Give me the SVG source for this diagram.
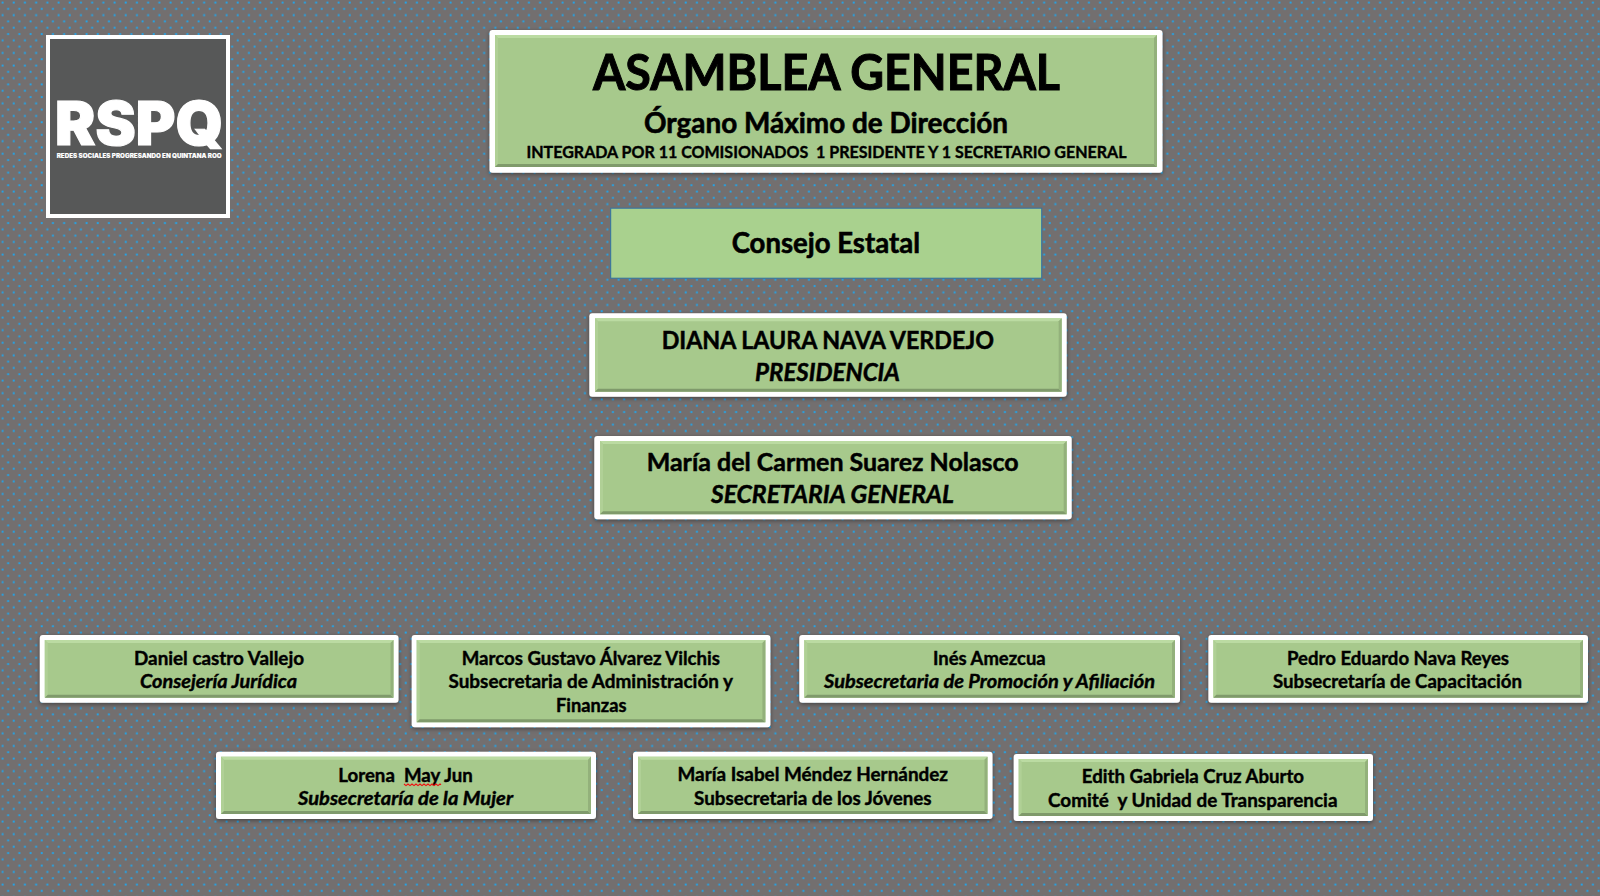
<svg xmlns="http://www.w3.org/2000/svg" width="1600" height="896" viewBox="0 0 1600 896">
<style>
text{font-family:"Lato","Carlito","Open Sans",sans-serif;font-weight:700;fill:#000;stroke:#000;stroke-width:.4;white-space:pre}
.i{font-style:italic}
.frame{fill:#fff;filter:url(#sh)}
.face{fill:#a7c98c}
.bt{fill:#bbdba2}
.bl{fill:#b0d096}
.bb{fill:#7f9a6b}
.br{fill:#93b17b}
.s1{font-size:18px}
.s2{font-size:25px;stroke-width:.5}
.logo{font-family:"Inter","Open Sans",sans-serif;font-weight:900;fill:#fff;stroke:#fff}
</style>
<defs>
<pattern id="dots" width="11.2" height="12.6" patternUnits="userSpaceOnUse">
<rect width="11.2" height="12.6" fill="#736f6f"/>
<rect x="1.6" y="1.6" width="1.9" height="1.9" fill="#1fa6ee"/>
<rect x="7.2" y="7.9" width="1.9" height="1.9" fill="#1fa6ee"/>
</pattern>
<filter id="sh" x="-5%" y="-15%" width="110%" height="130%"><feDropShadow dx="0" dy="1.5" stdDeviation="2" flood-color="#000" flood-opacity=".4"/></filter>
</defs>
<rect id="background" width="1600" height="896" fill="url(#dots)"/>
<g id="connectors"/>
<g id="logo">
<rect x="48" y="37" width="180" height="179" fill="#575858" stroke="#fff" stroke-width="4"/>
<text class="logo" x="55" y="145" font-size="60" textLength="168" lengthAdjust="spacingAndGlyphs" style="stroke-width:1.2">RSPQ</text>
<text class="logo" x="56.7" y="158" font-size="6" textLength="165" lengthAdjust="spacingAndGlyphs" style="stroke-width:.1">REDES SOCIALES PROGRESANDO EN QUINTANA ROO</text>
</g>
<g id="asamblea">
<rect class="frame" x="489.5" y="30" width="673" height="142.7" rx="3"/>
<rect class="face" x="495" y="35" width="662" height="132"/>
<polygon class="bt" points="495,35 1157,35 1154,38 498,38"/>
<polygon class="bl" points="495,35 498,38 498,164 495,167"/>
<polygon class="bb" points="495,167 1157,167 1154,164 498,164"/>
<polygon class="br" points="1157,35 1157,167 1154,164 1154,38"/>
<text x="593" y="90" font-size="50" textLength="467" lengthAdjust="spacingAndGlyphs" style="stroke-width:1">ASAMBLEA GENERAL</text>
<text x="644" y="133" font-size="28" textLength="364" lengthAdjust="spacingAndGlyphs" style="stroke-width:.6">Órgano Máximo de Dirección</text>
<text x="526.5" y="158" font-size="17" textLength="600" lengthAdjust="spacingAndGlyphs">INTEGRADA POR 11 COMISIONADOS  1 PRESIDENTE Y 1 SECRETARIO GENERAL</text>
</g>
<g id="consejo">
<rect x="610.7" y="208.2" width="431" height="70" fill="#a9d18e" stroke="#2f73a5" stroke-width="1"/>
<text x="731.7" y="252.9" font-size="28" textLength="188.3" lengthAdjust="spacingAndGlyphs" style="stroke-width:.6">Consejo Estatal</text>
</g>
<g id="presidencia">
<rect class="frame" x="589.3" y="313.3" width="477.4" height="83.4" rx="3"/>
<rect class="face" x="595" y="318.3" width="466.7" height="73.4"/>
<polygon class="bt" points="595,318.3 1061.7,318.3 1058.7,321.3 598,321.3"/>
<polygon class="bl" points="595,318.3 598,321.3 598,388.7 595,391.7"/>
<polygon class="bb" points="595,391.7 1061.7,391.7 1058.7,388.7 598,388.7"/>
<polygon class="br" points="1061.7,318.3 1061.7,391.7 1058.7,388.7 1058.7,321.3"/>
<text class="s2" x="661.7" y="348.7" textLength="332.3" lengthAdjust="spacingAndGlyphs">DIANA LAURA NAVA VERDEJO</text>
<text class="s2 i" x="755" y="381" textLength="145" lengthAdjust="spacingAndGlyphs">PRESIDENCIA</text>
</g>
<g id="secretaria">
<rect class="frame" x="594.3" y="436" width="477.4" height="83.3" rx="3"/>
<rect class="face" x="600" y="441" width="466.7" height="73.3"/>
<polygon class="bt" points="600,441 1066.7,441 1063.7,444 603,444"/>
<polygon class="bl" points="600,441 603,444 603,511.3 600,514.3"/>
<polygon class="bb" points="600,514.3 1066.7,514.3 1063.7,511.3 603,511.3"/>
<polygon class="br" points="1066.7,441 1066.7,514.3 1063.7,511.3 1063.7,444"/>
<text class="s2" x="646.7" y="471" textLength="372" lengthAdjust="spacingAndGlyphs">María del Carmen Suarez Nolasco</text>
<text class="s2 i" x="711" y="503" textLength="243" lengthAdjust="spacingAndGlyphs">SECRETARIA GENERAL</text>
</g>
<g id="juridica">
<rect class="frame" x="39.8" y="635" width="358.7" height="67.7" rx="3"/>
<rect class="face" x="44.8" y="640" width="348.7" height="57.7"/>
<polygon class="bt" points="44.8,640 393.5,640 390.5,643 47.8,643"/>
<polygon class="bl" points="44.8,640 47.8,643 47.8,694.7 44.8,697.7"/>
<polygon class="bb" points="44.8,697.7 393.5,697.7 390.5,694.7 47.8,694.7"/>
<polygon class="br" points="393.5,640 393.5,697.7 390.5,694.7 390.5,643"/>
<text class="s1" x="134" y="664.8" textLength="170" lengthAdjust="spacingAndGlyphs">Daniel castro Vallejo</text>
<text class="s1 i" x="140" y="688.2" textLength="157" lengthAdjust="spacingAndGlyphs">Consejería Jurídica</text>
</g>
<g id="administracion">
<rect class="frame" x="411.7" y="635" width="358.7" height="92.3" rx="3"/>
<rect class="face" x="416.7" y="640" width="348.7" height="82.3"/>
<polygon class="bt" points="416.7,640 765.4,640 762.4,643 419.7,643"/>
<polygon class="bl" points="416.7,640 419.7,643 419.7,719.3 416.7,722.3"/>
<polygon class="bb" points="416.7,722.3 765.4,722.3 762.4,719.3 419.7,719.3"/>
<polygon class="br" points="765.4,640 765.4,722.3 762.4,719.3 762.4,643"/>
<text class="s1" x="461.7" y="664.8" textLength="258.3" lengthAdjust="spacingAndGlyphs">Marcos Gustavo Álvarez Vilchis</text>
<text class="s1" x="448.5" y="688.2" textLength="284.5" lengthAdjust="spacingAndGlyphs">Subsecretaria de Administración y</text>
<text class="s1" x="556" y="711.5" textLength="70.5" lengthAdjust="spacingAndGlyphs">Finanzas</text>
</g>
<g id="promocion">
<rect class="frame" x="799.3" y="635" width="380.7" height="67.7" rx="3"/>
<rect class="face" x="804.3" y="640" width="370.7" height="57.7"/>
<polygon class="bt" points="804.3,640 1175,640 1172,643 807.3,643"/>
<polygon class="bl" points="804.3,640 807.3,643 807.3,694.7 804.3,697.7"/>
<polygon class="bb" points="804.3,697.7 1175,697.7 1172,694.7 807.3,694.7"/>
<polygon class="br" points="1175,640 1175,697.7 1172,694.7 1172,643"/>
<text class="s1" x="933" y="664.8" textLength="112.7" lengthAdjust="spacingAndGlyphs">Inés Amezcua</text>
<text class="s1 i" x="824" y="688.2" textLength="331" lengthAdjust="spacingAndGlyphs">Subsecretaria de Promoción y Afiliación</text>
</g>
<g id="capacitacion">
<rect class="frame" x="1208.4" y="635" width="379.6" height="67.7" rx="3"/>
<rect class="face" x="1213.4" y="640" width="369.6" height="57.7"/>
<polygon class="bt" points="1213.4,640 1583,640 1580,643 1216.4,643"/>
<polygon class="bl" points="1213.4,640 1216.4,643 1216.4,694.7 1213.4,697.7"/>
<polygon class="bb" points="1213.4,697.7 1583,697.7 1580,694.7 1216.4,694.7"/>
<polygon class="br" points="1583,640 1583,697.7 1580,694.7 1580,643"/>
<text class="s1" x="1287" y="664.8" textLength="222" lengthAdjust="spacingAndGlyphs">Pedro Eduardo Nava Reyes</text>
<text class="s1" x="1273" y="688.2" textLength="249" lengthAdjust="spacingAndGlyphs">Subsecretaría de Capacitación</text>
</g>
<g id="mujer">
<rect class="frame" x="216" y="751.7" width="380" height="67.3" rx="3"/>
<rect class="face" x="221" y="756.7" width="370" height="57.3"/>
<polygon class="bt" points="221,756.7 591,756.7 588,759.7 224,759.7"/>
<polygon class="bl" points="221,756.7 224,759.7 224,811 221,814"/>
<polygon class="bb" points="221,814 591,814 588,811 224,811"/>
<polygon class="br" points="591,756.7 591,814 588,811 588,759.7"/>
<text class="s1" x="338.3" y="781.7" textLength="134.4" lengthAdjust="spacingAndGlyphs">Lorena  May Jun</text>
<text class="s1 i" x="298" y="805.3" textLength="215" lengthAdjust="spacingAndGlyphs">Subsecretaría de la Mujer</text>
<path d="M404 784l2 1.6 2-1.6 2 1.6 2-1.6 2 1.6 2-1.6 2 1.6 2-1.6 2 1.6 2-1.6 2 1.6 2-1.6 2 1.6 2-1.6 2 1.6 2-1.6 2 1.6 2-1.6 1 .8" fill="none" stroke="#f01010" stroke-width="1.2"/>
</g>
<g id="jovenes">
<rect class="frame" x="633" y="751.7" width="359.5" height="67.3" rx="3"/>
<rect class="face" x="638" y="756.7" width="349.5" height="57.3"/>
<polygon class="bt" points="638,756.7 987.5,756.7 984.5,759.7 641,759.7"/>
<polygon class="bl" points="638,756.7 641,759.7 641,811 638,814"/>
<polygon class="bb" points="638,814 987.5,814 984.5,811 641,811"/>
<polygon class="br" points="987.5,756.7 987.5,814 984.5,811 984.5,759.7"/>
<text class="s1" x="677.5" y="781.3" textLength="270.5" lengthAdjust="spacingAndGlyphs">María Isabel Méndez Hernández</text>
<text class="s1" x="694" y="804.6" textLength="237.6" lengthAdjust="spacingAndGlyphs">Subsecretaria de los Jóvenes</text>
</g>
<g id="transparencia">
<rect class="frame" x="1013.7" y="754" width="359.3" height="67" rx="3"/>
<rect class="face" x="1018.7" y="759" width="349.3" height="57"/>
<polygon class="bt" points="1018.7,759 1368,759 1365,762 1021.7,762"/>
<polygon class="bl" points="1018.7,759 1021.7,762 1021.7,813 1018.7,816"/>
<polygon class="bb" points="1018.7,816 1368,816 1365,813 1021.7,813"/>
<polygon class="br" points="1368,759 1368,816 1365,813 1365,762"/>
<text class="s1" x="1081.8" y="783.3" textLength="222.2" lengthAdjust="spacingAndGlyphs">Edith Gabriela Cruz Aburto</text>
<text class="s1" x="1048" y="806.7" textLength="289.5" lengthAdjust="spacingAndGlyphs">Comité  y Unidad de Transparencia</text>
</g>
</svg>
